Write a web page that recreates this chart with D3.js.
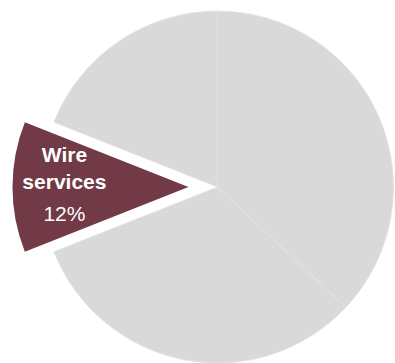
<!DOCTYPE html>
<html>
<head>
<meta charset="utf-8">
<script src="https://cdn.jsdelivr.net/npm/d3@7"></script>
<style>
  html, body { margin: 0; padding: 0; background: #ffffff; }
  svg { display: block; }
</style>
</head>
<body>
<svg id="chart" width="395" height="363"></svg>
<script>
// Share of content by source, drawn clockwise from 12 o'clock
const categories = ["Segment A", "Segment B", "Wire services", "Segment D"];
const values = [37, 32, 12, 19];
const highlighted = ["Wire services"];
const labelLines = { "Wire services": ["Wire", "services"] };

const width = 395, height = 363;
const cx = 217.5, cy = 187, radius = 176;
const explode = 29;

const svg = d3.select("#chart");
const g = svg.append("g").attr("transform", `translate(${cx},${cy})`);

const data = categories.map((c, i) => ({ category: c, value: values[i] }));
const pie = d3.pie().value(d => d.value).sort(null);
const arcs = pie(data);

const arc = d3.arc().innerRadius(0).outerRadius(radius);
const labelArc = d3.arc().innerRadius(radius * 0.705).outerRadius(radius * 0.705);

const color = d => highlighted.includes(d.data.category) ? "#713a46" : "#d9d9d9";

function offset(d) {
  if (!highlighted.includes(d.data.category)) return [0, 0];
  const mid = (d.startAngle + d.endAngle) / 2;
  return [Math.sin(mid) * explode, -Math.cos(mid) * explode];
}

const slice = g.selectAll("g.slice")
  .data(arcs)
  .join("g")
  .attr("class", "slice")
  .attr("transform", d => `translate(${offset(d)})`);

slice.append("path")
  .attr("d", arc)
  .attr("fill", color)
  .attr("stroke", d => highlighted.includes(d.data.category) ? "none" : "#e4e4e4")
  .attr("stroke-width", 0.8);

// Labels for the highlighted slice only
const labelled = slice.filter(d => highlighted.includes(d.data.category));

const text = labelled.append("text")
  .attr("transform", d => `translate(${labelArc.centroid(d)})`)
  .attr("text-anchor", "middle")
  .attr("fill", "#ffffff")
  .style("font-family", "'Liberation Sans', Arial, sans-serif")
  .style("font-size", "21px");

text.each(function (d) {
  const t = d3.select(this);
  const lines = labelLines[d.data.category] || [d.data.category];
  t.append("tspan").attr("x", 0).attr("y", -25).attr("font-weight", "bold").text(lines[0]);
  t.append("tspan").attr("x", 0).attr("y", 2).attr("font-weight", "bold").text(lines[1]);
  t.append("tspan").attr("x", 0).attr("y", 34).attr("font-weight", "normal").text(d.data.value + "%");
});
</script>
</body>
</html>
